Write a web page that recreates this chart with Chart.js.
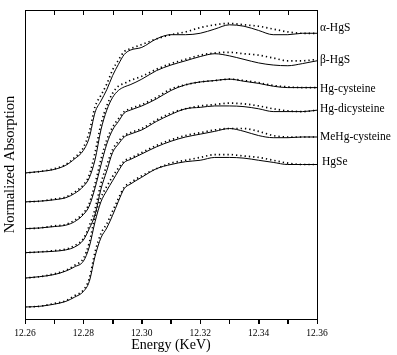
<!DOCTYPE html>
<html>
<head>
<meta charset="utf-8">
<script src="https://cdn.jsdelivr.net/npm/chart.js@4"></script>
<style>
  html, body { margin: 0; padding: 0; background: #ffffff; }
  canvas { display: block; }
</style>
</head>
<body>
<canvas id="c" width="397" height="355"></canvas>
<script>
// ---- data ----
const energy = [12.260,12.265,12.270,12.274,12.277,12.280,12.282,12.284,12.286,12.288,12.290,12.292,12.294,12.296,12.300,12.305,12.310,12.315,12.320,12.325,12.330,12.335,12.340,12.345,12.350,12.355,12.360];

const sampleNames = ['α-HgS', 'β-HgS', 'Hg-cysteine', 'Hg-dicysteine', 'MeHg-cysteine', 'HgSe'];
// vertical offsets used in the original stacked plot (normalized units)
const offsets = [1.035, 0.83, 0.64, 0.47, 0.29, 0.085];

// measured spectra (solid lines)
const aHgS     = [0,0.01,0.025,0.055,0.10,0.16,0.25,0.43,0.51,0.59,0.69,0.77,0.84,0.87,0.89,0.95,0.98,0.98,0.99,1.02,1.05,1.04,1.01,0.98,0.98,0.99,0.99];
const bHgS     = [0,0.005,0.015,0.03,0.06,0.11,0.17,0.30,0.51,0.65,0.74,0.79,0.815,0.83,0.87,0.93,0.97,1.0,1.03,1.05,1.035,1.01,0.985,0.97,0.965,0.98,1.0];
const hgCys    = [0,0.005,0.015,0.025,0.05,0.10,0.16,0.29,0.45,0.60,0.70,0.76,0.82,0.84,0.87,0.92,0.98,1.02,1.04,1.05,1.06,1.045,1.03,1.01,1.0,1.0,1.0];
const hgDiCys  = [0,0.005,0.01,0.02,0.04,0.09,0.17,0.27,0.45,0.58,0.71,0.77,0.82,0.84,0.87,0.93,0.98,1.02,1.03,1.04,1.04,1.035,1.02,1.0,1.0,1.0,1.01];
const meHgCys  = [0,0.01,0.025,0.05,0.08,0.12,0.22,0.40,0.54,0.62,0.69,0.76,0.82,0.84,0.88,0.93,0.97,1.0,1.02,1.04,1.06,1.04,1.01,0.995,0.995,1.0,1.0];
const hgSe     = [0,0.005,0.02,0.04,0.07,0.11,0.18,0.36,0.49,0.56,0.65,0.75,0.84,0.87,0.92,0.98,1.01,1.03,1.04,1.06,1.06,1.055,1.04,1.025,1.01,1.01,1.01];

// fits (dotted lines)
const aHgSFit    = [0,0.01,0.03,0.06,0.11,0.18,0.29,0.47,0.55,0.63,0.73,0.80,0.86,0.88,0.91,0.95,0.98,1.0,1.03,1.05,1.06,1.05,1.04,1.02,1.0,0.99,0.99];
const bHgSFit    = [0,0.005,0.02,0.035,0.07,0.12,0.19,0.35,0.55,0.68,0.77,0.82,0.84,0.86,0.89,0.94,0.98,1.01,1.04,1.055,1.06,1.05,1.04,1.02,1.0,1.0,1.01];
const hgCysFit   = [0,0.005,0.02,0.03,0.06,0.11,0.18,0.32,0.49,0.63,0.72,0.78,0.83,0.85,0.88,0.93,0.99,1.02,1.04,1.05,1.06,1.05,1.035,1.015,1.005,1.0,1.0];
const hgDiCysFit = [0,0.005,0.015,0.025,0.05,0.10,0.19,0.31,0.49,0.62,0.73,0.79,0.83,0.85,0.88,0.94,0.99,1.02,1.04,1.05,1.06,1.055,1.04,1.02,1.005,1.0,1.01];
const meHgCysFit = [0,0.01,0.03,0.055,0.09,0.14,0.25,0.44,0.57,0.65,0.72,0.78,0.83,0.85,0.89,0.94,0.98,1.01,1.03,1.05,1.06,1.06,1.04,1.01,1.0,1.0,1.0];
const hgSeFit    = [0,0.005,0.025,0.045,0.08,0.12,0.20,0.39,0.52,0.59,0.68,0.77,0.85,0.88,0.93,0.98,1.02,1.04,1.06,1.08,1.08,1.07,1.06,1.04,1.02,1.01,1.01];

const tickLabels = ['12.26','12.28','12.30','12.32','12.34','12.36'];
const xTitle = 'Energy (KeV)';
const yTitle = 'Normalized Absorption';

// ---- build datasets ----
const measured = [aHgS, bHgS, hgCys, hgDiCys, meHgCys, hgSe];
const fits = [aHgSFit, bHgSFit, hgCysFit, hgDiCysFit, meHgCysFit, hgSeFit];

const SERIF = '"Liberation Serif", "Times New Roman", serif';
const datasets = [];
measured.forEach((arr, k) => {
  datasets.push({
    label: sampleNames[k],
    data: energy.map((e, i) => ({x: e, y: offsets[k] + arr[i]})),
    borderColor: '#000', borderWidth: 1, pointRadius: 0,
    cubicInterpolationMode: 'monotone', fill: false
  });
  datasets.push({
    label: sampleNames[k] + ' fit',
    data: energy.map((e, i) => ({x: e, y: offsets[k] + fits[k][i]})),
    borderColor: '#000', borderWidth: 1.7, borderDash: [1.3, 3], pointRadius: 0,
    cubicInterpolationMode: 'monotone', fill: false
  });
});

const labelDy = [-5, -1, 1, -1, 0, -3];

const framePlugin = {
  id: 'frame',
  afterDraw(chart) {
    const {ctx, chartArea: a, scales: {x, y}} = chart;
    ctx.save();
    ctx.strokeStyle = '#000';
    ctx.lineWidth = 1;
    // top and right border
    ctx.beginPath();
    ctx.moveTo(Math.round(a.left) + 0.5, Math.round(a.top) + 0.5);
    ctx.lineTo(Math.round(a.right) + 0.5, Math.round(a.top) + 0.5);
    ctx.lineTo(Math.round(a.right) + 0.5, Math.round(a.bottom) + 0.5);
    ctx.stroke();
    // inward ticks on top border, outward ticks on bottom axis
    x.ticks.forEach(t => {
      const px = Math.round(x.getPixelForValue(t.value)) + 0.5;
      ctx.beginPath();
      ctx.moveTo(px, a.top);
      ctx.lineTo(px, a.top + 5);
      ctx.moveTo(px, a.bottom);
      ctx.lineTo(px, a.bottom + 5);
      ctx.stroke();
    });
    // sample labels on the right
    ctx.fillStyle = '#000';
    ctx.font = '11.5px ' + SERIF;
    ctx.textBaseline = 'middle';
    ctx.textAlign = 'left';
    measured.forEach((arr, k) => {
      const yy = y.getPixelForValue(offsets[k] + arr[arr.length - 1]) + labelDy[k];
      ctx.fillText(sampleNames[k], a.right + (k === 5 ? 5 : 3), yy);
    });
    ctx.restore();
  }
};

new Chart(document.getElementById('c'), {
  type: 'line',
  data: { datasets },
  options: {
    responsive: false,
    animation: false,
    devicePixelRatio: 1,
    layout: { padding: { top: 10, right: 80, left: 0, bottom: 0 } },
    plugins: { legend: { display: false }, tooltip: { enabled: false } },
    scales: {
      x: {
        type: 'linear', min: 12.26, max: 12.36,
        afterFit(s) { s.height = 36; },
        border: { display: true, color: '#000', width: 1 },
        grid: { drawOnChartArea: false, drawTicks: true, tickLength: 5, color: '#000' },
        ticks: {
          stepSize: 0.01, autoSkip: false, maxRotation: 0, padding: 4,
          color: '#000', font: { family: SERIF, size: 9.5 },
          callback(v) {
            const s = Number(v).toFixed(2);
            return tickLabels.includes(s) ? s : '';
          }
        },
        title: { display: true, text: xTitle, color: '#000',
                 font: { family: SERIF, size: 14 }, padding: { top: 0, bottom: 1 } }
      },
      y: {
        type: 'linear', min: 0, max: 2.19,
        afterFit(s) { s.width = 25; },
        border: { display: true, color: '#000', width: 1 },
        grid: { display: false },
        ticks: { display: false },
        title: { display: true, text: yTitle, color: '#000',
                 font: { family: SERIF, size: 14.5 }, padding: { top: 1, bottom: 0 } }
      }
    }
  },
  plugins: [framePlugin]
});
</script>
</body>
</html>
